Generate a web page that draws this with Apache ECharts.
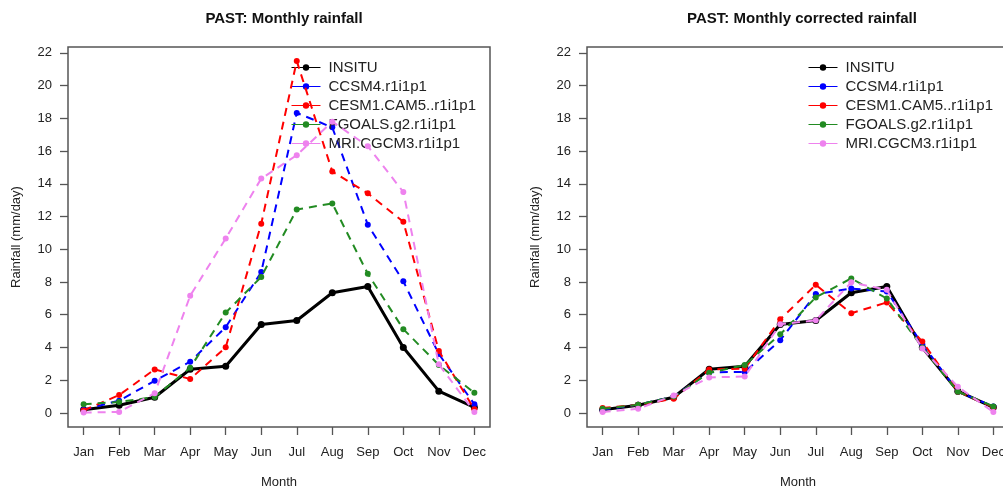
<!DOCTYPE html>
<html>
<head>
<meta charset="utf-8">
<script src="https://cdn.jsdelivr.net/npm/echarts@6/dist/echarts.min.js"></script>
<style>
html,body{margin:0;padding:0;background:#fff;}
#c{width:1003px;height:488px;}
</style>
</head>
<body>
<div id="c"></div>
<script>
// ---- data ----
const months = ['Jan','Feb','Mar','Apr','May','Jun','Jul','Aug','Sep','Oct','Nov','Dec'];
const seriesNames = ['INSITU','CCSM4.r1i1p1','CESM1.CAM5..r1i1p1','FGOALS.g2.r1i1p1','MRI.CGCM3.r1i1p1'];
const yTicks = [0,2,4,6,8,10,12,14,16,18,20,22];

const insitu = [0.2, 0.47, 0.96, 2.67, 2.85, 5.4, 5.65, 7.34, 7.73, 4.0, 1.33, 0.34];

// raw model rainfall (left panel)
const rawCCSM4  = [0.2, 0.75, 1.96, 3.13, 5.24, 8.61, 18.33, 17.45, 11.5, 8.04, 3.6, 0.53];
const rawCESM1  = [0.15, 1.09, 2.66, 2.07, 4.01, 11.56, 21.5, 14.75, 13.42, 11.68, 3.79, 0.22];
const rawFGOALS = [0.53, 0.67, 0.97, 2.76, 6.13, 8.31, 12.43, 12.8, 8.5, 5.12, 2.93, 1.23];
const rawMRI    = [0.02, 0.06, 1.2, 7.16, 10.66, 14.32, 15.75, 17.8, 16.3, 13.5, 2.97, 0.06];

// corrected model rainfall (right panel)
const corCCSM4  = [0.2, 0.5, 1.0, 2.49, 2.5, 4.44, 7.26, 7.6, 7.42, 4.2, 1.3, 0.4];
const corCESM1  = [0.3, 0.5, 0.86, 2.66, 2.7, 5.72, 7.83, 6.09, 6.75, 4.36, 1.3, 0.35];
const corFGOALS = [0.25, 0.5, 1.0, 2.45, 2.93, 4.8, 7.06, 8.22, 6.99, 4.0, 1.3, 0.4];
const corMRI    = [0.05, 0.26, 1.06, 2.17, 2.22, 5.42, 5.66, 7.98, 7.52, 3.93, 1.6, 0.05];

const colors = ['#000000','#0000FF','#FF0000','#228B22','#EE82EE'];
// ---- end data ----

const FONT = 'Liberation Sans, Arial, Helvetica, sans-serif';
const chart = echarts.init(document.getElementById('c'), null, {renderer:'canvas'});

const toPts = arr => arr.map((v,i)=>[i, v]);
const panels = [
  {left:68, title:'PAST: Monthly rainfall', center:279, legendLeft:286, data:[insitu, rawCCSM4, rawCESM1, rawFGOALS, rawMRI]},
  {left:587, title:'PAST: Monthly corrected rainfall', center:797, legendLeft:803, data:[insitu, corCCSM4, corCESM1, corFGOALS, corMRI]}
];

const grids=[], xAxes=[], yAxes=[], series=[], titles=[], legends=[];
panels.forEach((p,k)=>{
  grids.push({left:p.left, top:47, width:422, height:380, show:true, borderColor:'#555', borderWidth:1.5,
    containLabel:false, outerBoundsMode:'none'});
  xAxes.push({
    type:'value', gridIndex:k, min:-0.44, max:11.44,
    axisLine:{show:false, onZero:false},
    splitLine:{show:false},
    axisTick:{show:true, inside:false, length:8, lineStyle:{color:'#555', width:1.3}, customValues: months.map((m,i)=>i)},
    axisLabel:{show:true, margin:19, color:'#222', fontSize:13, fontFamily:FONT, customValues: months.map((m,i)=>i), formatter: v => months[Math.round(v)]},
    name:'Month', nameLocation:'middle', nameGap:49, nameTextStyle:{color:'#222', fontSize:13, fontFamily:FONT}
  });
  yAxes.push({
    type:'value', gridIndex:k, min:-0.86, max:22.36,
    axisLine:{show:false, onZero:false},
    splitLine:{show:false},
    axisTick:{show:true, inside:false, length:8, lineStyle:{color:'#555', width:1.3}, customValues: yTicks},
    axisLabel:{show:true, margin:16, color:'#222', fontSize:13, fontFamily:FONT, customValues: yTicks},
    name:'Rainfall (mm/day)', nameLocation:'middle', nameGap:45, nameTextStyle:{color:'#222', fontSize:13, fontFamily:FONT}
  });
  titles.push({text:p.title, left:p.center, top:6, textAlign:'center',
    textStyle:{fontSize:15, fontWeight:'bold', color:'#111', fontFamily:FONT}});
  legends.push({
    orient:'vertical', left:p.legendLeft, top:54, itemWidth:29, itemHeight:8, itemGap:2,
    data: seriesNames,
    lineStyle:{width:1, type:'solid'},
    textStyle:{fontSize:15, color:'#222', fontFamily:FONT, lineHeight:17, padding:[0,0,0,3]},
    selectedMode:false
  });
  seriesNames.forEach((name,j)=>{
    series.push({
      name:name, type:'line', xAxisIndex:k, yAxisIndex:k,
      data: toPts(p.data[j]),
      symbol:'circle', symbolSize: j===0 ? 7 : 6,
      showSymbol:true,
      lineStyle:{color:colors[j], width: j===0 ? 3 : 2, type: j===0 ? 'solid' : [8,6]},
      itemStyle:{color:colors[j]},
      animation:false,
      z: 2 + j
    });
  });
});

chart.setOption({
  backgroundColor:'#ffffff',
  animation:false,
  title:titles,
  legend:legends,
  grid:grids,
  xAxis:xAxes,
  yAxis:yAxes,
  series:series
});
</script>
</body>
</html>
